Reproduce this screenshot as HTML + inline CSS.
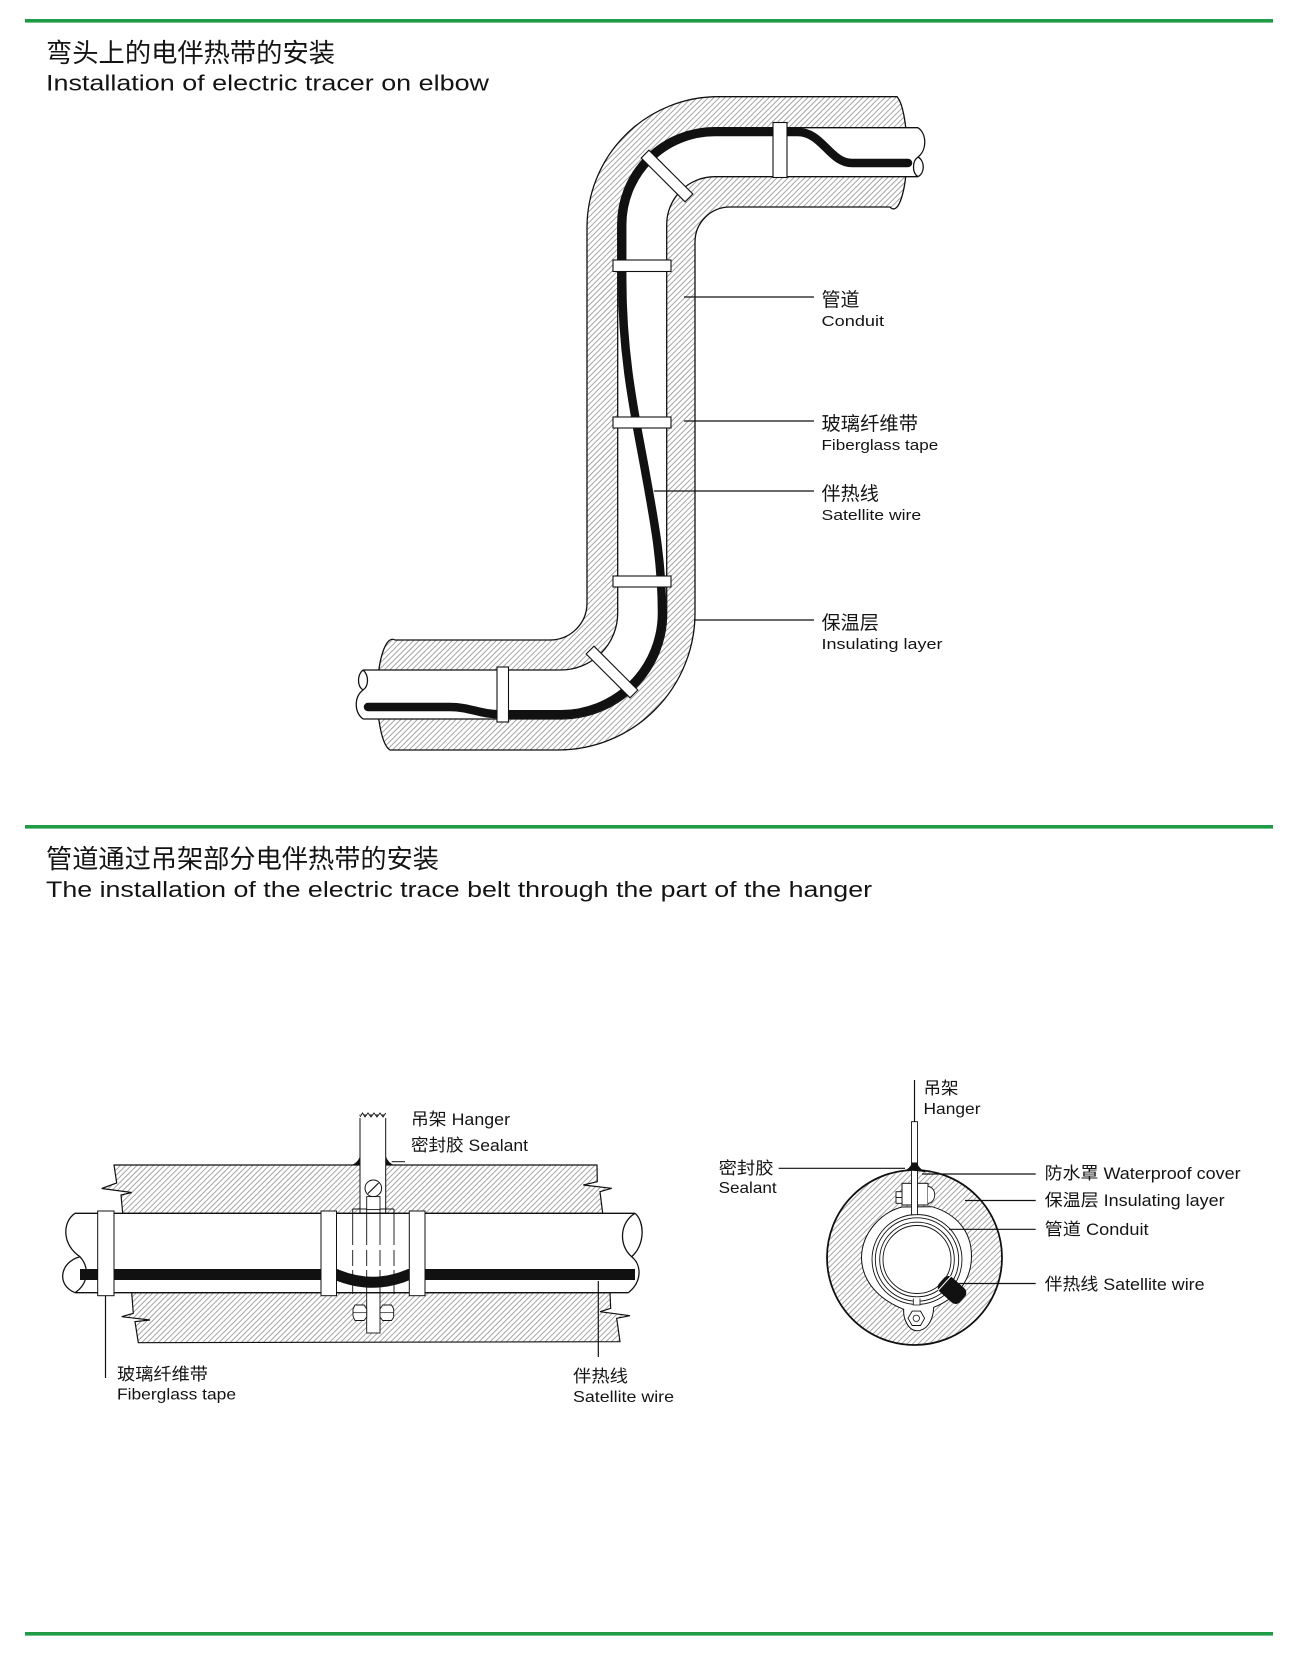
<!DOCTYPE html>
<html>
<head>
<meta charset="utf-8">
<style>
  html,body{margin:0;padding:0;background:#fff;}
  svg{display:block;}
  text{font-family:"Liberation Sans","Noto Sans CJK SC",sans-serif;fill:#141414;}
</style>
</head>
<body>
<svg width="1300" height="1663" viewBox="0 0 1300 1663" xmlns="http://www.w3.org/2000/svg">
  <defs>
    <pattern id="hatch" patternUnits="userSpaceOnUse" width="3.9" height="3.9" patternTransform="rotate(45)">
      <rect width="3.9" height="3.9" fill="#fff"/>
      <line x1="0.5" y1="0" x2="0.5" y2="3.9" stroke="#6a6a6a" stroke-width="0.6"/>
    </pattern>
  </defs>

  <!-- green rules -->
  <rect x="25" y="19" width="1248" height="3.6" fill="#1f9b45"/>
  <rect x="25" y="825" width="1248" height="3.6" fill="#1f9b45"/>
  <rect x="25" y="1632" width="1248" height="3.6" fill="#1f9b45"/>

  <!-- titles -->
  <text x="46" y="62" font-size="26" textLength="289" lengthAdjust="spacingAndGlyphs">弯头上的电伴热带的安装</text>
  <text x="46" y="90.5" font-size="22" textLength="443" lengthAdjust="spacingAndGlyphs">Installation of electric tracer on elbow</text>

  <text x="46" y="868" font-size="26" textLength="393" lengthAdjust="spacingAndGlyphs">管道通过吊架部分电伴热带的安装</text>
  <text x="46" y="897" font-size="22" textLength="826" lengthAdjust="spacingAndGlyphs">The installation of the electric trace belt through the part of the hanger</text>

  <!-- ============ ELBOW ============ -->
  <!-- insulation -->
  <path d="M 897,96.7 L 718,96.7 A 131 131 0 0 0 587,228 L 587,603 A 37 37 0 0 1 550,640 L 395,640 A 15 55 0 0 0 390,750 L 558,750 A 137 137 0 0 0 695,613 L 695,242 A 35 35 0 0 1 730,207 L 890,207 A 13 55 0 0 0 897,96.7 Z"
        fill="url(#hatch)" stroke="#111" stroke-width="1.3"/>
  <!-- pipe fill -->
  <path d="M 918,127.7 L 714.7,127.7 A 97 97 0 0 0 617.7,224.7 L 617.7,613 A 57 57 0 0 1 560.7,670 L 363,670 C 357,675 357,686 363,690 C 354,697 354,712 363,719 L 560.7,719 A 106 106 0 0 0 666.7,613 L 666.7,224.7 A 48 48 0 0 1 714.7,176.7 L 918,176.7 C 925,173 925,161 918,157 C 927,150 927,134 918,127.7 Z"
        fill="#fff" stroke="none"/>
  <!-- pipe outlines -->
  <g fill="none" stroke="#111" stroke-width="1.3">
    <path d="M 918,127.7 L 714.7,127.7 A 97 97 0 0 0 617.7,224.7 L 617.7,613 A 57 57 0 0 1 560.7,670 L 363,670"/>
    <path d="M 363,719 L 560.7,719 A 106 106 0 0 0 666.7,613 L 666.7,224.7 A 48 48 0 0 1 714.7,176.7 L 918,176.7"/>
    <path d="M 918,127.7 C 927,134 927,150 918,157 M 918,157 C 925,161 925,173 918,176.7 M 918,157 C 912,161 912,173 918,176.7"/>
    <path d="M 363,670 C 357,675 357,686 363,690 M 363,670 C 369,675 369,686 363,690 M 363,690 C 354,697 354,712 363,719"/>
  </g>
  <!-- wire -->
  <path d="M 908,163 L 852,163 C 830,163 822,132 798,132 L 714.7,132 A 92.7 92.7 0 0 0 622.2,224.7 L 622.2,280 C 622.2,360 636,420 645,470 C 654,520 662,560 662,613 A 101.3 101.3 0 0 1 560.7,714.3 L 500,714.3 C 480,714.3 470,707 450,707 L 368,707"
        fill="none" stroke="#111" stroke-width="8.5" stroke-linecap="round" stroke-linejoin="round"/>
  <!-- tapes -->
  <g fill="#fff" stroke="#111" stroke-width="1.1">
    <rect x="773" y="122.5" width="14" height="55"/>
    <rect x="-5.5" y="-31" width="11" height="62" transform="translate(667,176) rotate(-45)"/>
    <rect x="613" y="260" width="58" height="11.5"/>
    <rect x="613" y="417" width="58" height="11"/>
    <rect x="613" y="576" width="58" height="11"/>
    <rect x="-5.5" y="-31" width="11" height="62" transform="translate(612,672) rotate(-45)"/>
    <rect x="497" y="667" width="11.5" height="55"/>
  </g>
  <!-- leaders -->
  <g stroke="#111" stroke-width="1.2">
    <line x1="684" y1="297" x2="814" y2="297"/>
    <line x1="684" y1="421" x2="814" y2="421"/>
    <line x1="654" y1="491" x2="814" y2="491"/>
    <line x1="694" y1="620" x2="814" y2="620"/>
  </g>
  <text x="821.5" y="306" font-size="19" textLength="38" lengthAdjust="spacingAndGlyphs">管道</text>
  <text x="821.5" y="326" font-size="15" textLength="62.6" lengthAdjust="spacingAndGlyphs">Conduit</text>
  <text x="821.5" y="430" font-size="19" textLength="96.5" lengthAdjust="spacingAndGlyphs">玻璃纤维带</text>
  <text x="821.5" y="450" font-size="15" textLength="116.7" lengthAdjust="spacingAndGlyphs">Fiberglass tape</text>
  <text x="821.5" y="500" font-size="19" textLength="57.3" lengthAdjust="spacingAndGlyphs">伴热线</text>
  <text x="821.5" y="520" font-size="15" textLength="99.7" lengthAdjust="spacingAndGlyphs">Satellite wire</text>
  <text x="821.5" y="629" font-size="19" textLength="57.3" lengthAdjust="spacingAndGlyphs">保温层</text>
  <text x="821.5" y="649" font-size="15" textLength="121" lengthAdjust="spacingAndGlyphs">Insulating layer</text>

  <!-- ============ HANGER LONGITUDINAL ============ -->
  <path d="M 114,1165 L 597,1165 L 597.3,1181.7 L 583.3,1185 L 611.7,1188.3 L 600,1191.7 L 602.7,1213.3 L 122.7,1213.3 L 121,1195 L 131.7,1192.5 L 101.7,1188.5 L 116.7,1183 Z"
        fill="url(#hatch)" stroke="#111" stroke-width="1.2" stroke-linejoin="miter"/>
  <path d="M 131.7,1292.7 L 610,1292.7 L 610.7,1308.3 L 600,1311.7 L 630,1315.7 L 616.7,1318.3 L 620,1341.7 L 138.3,1342.7 L 135,1321.7 L 150,1320 L 121.7,1316.7 L 133.3,1313.3 Z"
        fill="url(#hatch)" stroke="#111" stroke-width="1.2"/>
  <!-- pipe -->
  <path d="M75,1213.3 L635,1213.3 C645,1222 645,1245 631.7,1256.7 C642,1265 642,1282 628.3,1292.7 L75,1292.7 C56,1285 60,1262 80,1256.7 C62,1245 62,1222 75,1213.3 Z" fill="#fff" stroke="none"/>
  <g fill="none" stroke="#111" stroke-width="1.3">
    <path d="M 75,1213.3 L 635,1213.3"/>
    <path d="M 75,1292.7 L 628.3,1292.7"/>
    <path d="M 75,1213.3 C 62,1222 62,1245 80,1256.7 M 80,1256.7 C 60,1262 56,1285 75,1292.7 M 80,1256.7 C 90,1268 88,1284 75,1292.7"/>
    <path d="M 635,1213.3 C 645,1222 645,1245 631.7,1256.7 M 635,1213.3 C 620,1222 618,1245 631.7,1256.7 M 631.7,1256.7 C 642,1265 642,1282 628.3,1292.7"/>
  </g>
  <!-- hanger rod -->
  <rect x="360" y="1115" width="25.7" height="98" fill="#fff" stroke="#111" stroke-width="1"/>
  <path d="M 359,1117 L 362,1112 L 365,1117 L 368,1112 L 371,1117 L 374,1112 L 377,1117 L 380,1112 L 383,1117 L 386.5,1112 L 386.5,1118 L 359,1118 Z" fill="#fff" stroke="none"/>
  <path d="M 360,1117 L 362.5,1113 L 365,1117 L 368,1113 L 371,1117 L 374,1113 L 377,1117 L 380,1113 L 383,1117 L 385.7,1113" fill="none" stroke="#111" stroke-width="0.9"/>
  <!-- sealant -->
  <path d="M 350,1165.5 Q 358,1163 360,1156 L 360,1165.5 Z" fill="#111"/>
  <path d="M 385.7,1156 Q 388,1163 395,1165.5 L 385.7,1165.5 Z" fill="#111"/>
  <line x1="391.7" y1="1161.7" x2="405" y2="1161.7" stroke="#111" stroke-width="1"/>
  <!-- screw -->
  <circle cx="373.3" cy="1188.3" r="8.3" fill="#fff" stroke="#111" stroke-width="1"/>
  <line x1="368" y1="1193.5" x2="378.6" y2="1183" stroke="#111" stroke-width="1.2"/>
  <rect x="366.7" y="1196.6" width="13.3" height="13" fill="#fff" stroke="#111" stroke-width="0.9"/>
  <!-- clamp body -->
  <g stroke="#111" stroke-width="0.9" fill="none">
    <path d="M 352.7,1209 L 366.7,1209 M 380,1209 L 394,1209"/>
    <path d="M 352.7,1209 L 352.7,1245 M 352.7,1250 L 352.7,1266 M 352.7,1270 L 352.7,1294"/>
    <path d="M 394,1209 L 394,1245 M 394,1250 L 394,1266 M 394,1270 L 394,1294"/>
    <path d="M 366.7,1209 L 366.7,1245 M 366.7,1250 L 366.7,1266 M 366.7,1270 L 366.7,1294"/>
    <path d="M 380,1209 L 380,1245 M 380,1250 L 380,1266 M 380,1270 L 380,1294"/>
  </g>
  <!-- bolt below -->
  <rect x="366.7" y="1293" width="13.3" height="40" fill="#fff" stroke="#111" stroke-width="0.9"/>
  <path d="M 355,1305 L 364,1305 L 366.7,1309 L 366.7,1317 L 364,1320.5 L 355,1320.5 L 353,1316 L 353,1309 Z" fill="#fff" stroke="#111" stroke-width="0.9"/>
  <path d="M 382.7,1305 L 391.5,1305 L 393.7,1309 L 393.7,1317 L 391.5,1320.5 L 382.7,1320.5 L 380,1317 L 380,1309 Z" fill="#fff" stroke="#111" stroke-width="0.9"/>
  <line x1="353" y1="1312.7" x2="366.7" y2="1312.7" stroke="#111" stroke-width="0.7"/>
  <line x1="380" y1="1312.7" x2="393.7" y2="1312.7" stroke="#111" stroke-width="0.7"/>
  <!-- wire -->
  <path d="M 80,1274.5 L 336,1274.5 Q 373,1290 409,1274.5 L 635,1274.5" fill="none" stroke="#111" stroke-width="11"/>
  <!-- tapes -->
  <g fill="#fff" stroke="#111" stroke-width="1">
    <rect x="97.7" y="1211" width="16.3" height="84.7"/>
    <rect x="321" y="1211" width="15.5" height="84.7"/>
    <rect x="409.3" y="1211" width="15.7" height="84.7"/>
  </g>
  <!-- leaders -->
  <line x1="105.5" y1="1296" x2="105.5" y2="1378" stroke="#111" stroke-width="1.2"/>
  <line x1="598.3" y1="1281" x2="598.3" y2="1357" stroke="#111" stroke-width="1.2"/>
  <!-- labels -->
  <text x="411" y="1125" font-size="17" textLength="99" lengthAdjust="spacingAndGlyphs">吊架 Hanger</text>
  <text x="411" y="1151" font-size="17" textLength="117" lengthAdjust="spacingAndGlyphs">密封胶 Sealant</text>
  <text x="117" y="1380" font-size="17" textLength="91" lengthAdjust="spacingAndGlyphs">玻璃纤维带</text>
  <text x="117" y="1399.5" font-size="16" textLength="119" lengthAdjust="spacingAndGlyphs">Fiberglass tape</text>
  <text x="573" y="1382" font-size="17" textLength="55" lengthAdjust="spacingAndGlyphs">伴热线</text>
  <text x="573" y="1402" font-size="16" textLength="101" lengthAdjust="spacingAndGlyphs">Satellite wire</text>

  <!-- ============ CROSS SECTION ============ -->
  <circle cx="914.5" cy="1257.5" r="87.5" fill="url(#hatch)" stroke="#111" stroke-width="1.8"/>
  <!-- cavity -->
  <path d="M 902,1207 C 882,1212 862,1232 861.5,1257 C 861.5,1282 880,1300 903.7,1309.3 C 903,1318 908,1330.7 917,1330.7 C 926,1330.7 933,1322 933.7,1307.3 C 955,1299 971.5,1282 971.5,1256 C 971.5,1232 957,1214 932,1206.7 Z"
        fill="#fff" stroke="#111" stroke-width="1"/>
  <!-- clamp rings / conduit -->
  <g fill="none" stroke="#111" stroke-width="0.9">
    <circle cx="917" cy="1259.5" r="45"/>
    <circle cx="917" cy="1259.5" r="41.7"/>
    <circle cx="917" cy="1259.5" r="37.3"/>
    <circle cx="917" cy="1259.5" r="34"/>
  </g>
  <!-- top block -->
  <rect x="902" y="1183.3" width="26" height="21.7" fill="#fff" stroke="#111" stroke-width="1"/>
  <rect x="896" y="1191.7" width="6" height="5.8" fill="#fff" stroke="#111" stroke-width="0.9"/>
  <rect x="896" y="1197.5" width="6" height="5.8" fill="#fff" stroke="#111" stroke-width="0.9"/>
  <path d="M 928,1186.5 A 6.7 8.4 0 0 1 928,1203.3" fill="#fff" stroke="#111" stroke-width="0.9"/>
  <!-- rod -->
  <line x1="914.5" y1="1080" x2="914.5" y2="1122" stroke="#111" stroke-width="1.2"/>
  <rect x="911.5" y="1121.7" width="6" height="93" fill="#fff" stroke="#111" stroke-width="0.9"/>
  <!-- sealant -->
  <path d="M 902.5,1171.5 Q 910.5,1168.5 912,1162.5 L 917,1162.5 Q 918.5,1168.5 926.5,1172.5 Q 914.5,1169.5 902.5,1171.5 Z" fill="#111"/>
  <!-- bottom lug and hex -->
  <path d="M 913.3,1298.5 L 913.3,1305 L 920,1305 L 920,1298.5" fill="#fff" stroke="#111" stroke-width="0.8"/>
  <polygon points="924.6,1318.3 920.5,1325.5 912.2,1325.5 908,1318.3 912.2,1311.1 920.5,1311.1" fill="#fff" stroke="#111" stroke-width="0.9"/>
  <circle cx="916.3" cy="1318.3" r="3.2" fill="#fff" stroke="#111" stroke-width="0.8"/>
  <!-- satellite wire -->
  <g transform="translate(952,1290) rotate(42)">
    <rect x="-14" y="-9.5" width="28" height="19" rx="6" fill="#111"/>
    <path d="M -10,-9.5 L -10,9.5" stroke="#fff" stroke-width="1"/>
  </g>
  <!-- leaders -->
  <g stroke="#111" stroke-width="1.2">
    <line x1="778.6" y1="1168.3" x2="905" y2="1168.3"/>
    <line x1="922" y1="1174" x2="1035.7" y2="1174"/>
    <line x1="965" y1="1200.5" x2="1035.7" y2="1200.5"/>
    <line x1="949" y1="1229.3" x2="1035.7" y2="1229.3"/>
    <line x1="958.7" y1="1283.5" x2="1035.7" y2="1283.5"/>
  </g>
  <!-- labels -->
  <text x="923.5" y="1094" font-size="17" textLength="35" lengthAdjust="spacingAndGlyphs">吊架</text>
  <text x="923.5" y="1114" font-size="16" textLength="57" lengthAdjust="spacingAndGlyphs">Hanger</text>
  <text x="718.6" y="1174" font-size="17" textLength="55" lengthAdjust="spacingAndGlyphs">密封胶</text>
  <text x="718.6" y="1193" font-size="16" textLength="58" lengthAdjust="spacingAndGlyphs">Sealant</text>
  <text x="1044.6" y="1179" font-size="17" textLength="196" lengthAdjust="spacingAndGlyphs">防水罩 Waterproof cover</text>
  <text x="1044.6" y="1206" font-size="17" textLength="180" lengthAdjust="spacingAndGlyphs">保温层 Insulating layer</text>
  <text x="1044.6" y="1235" font-size="17" textLength="104" lengthAdjust="spacingAndGlyphs">管道 Conduit</text>
  <text x="1044.6" y="1290" font-size="17" textLength="160" lengthAdjust="spacingAndGlyphs">伴热线 Satellite wire</text>
</svg>
</body>
</html>
